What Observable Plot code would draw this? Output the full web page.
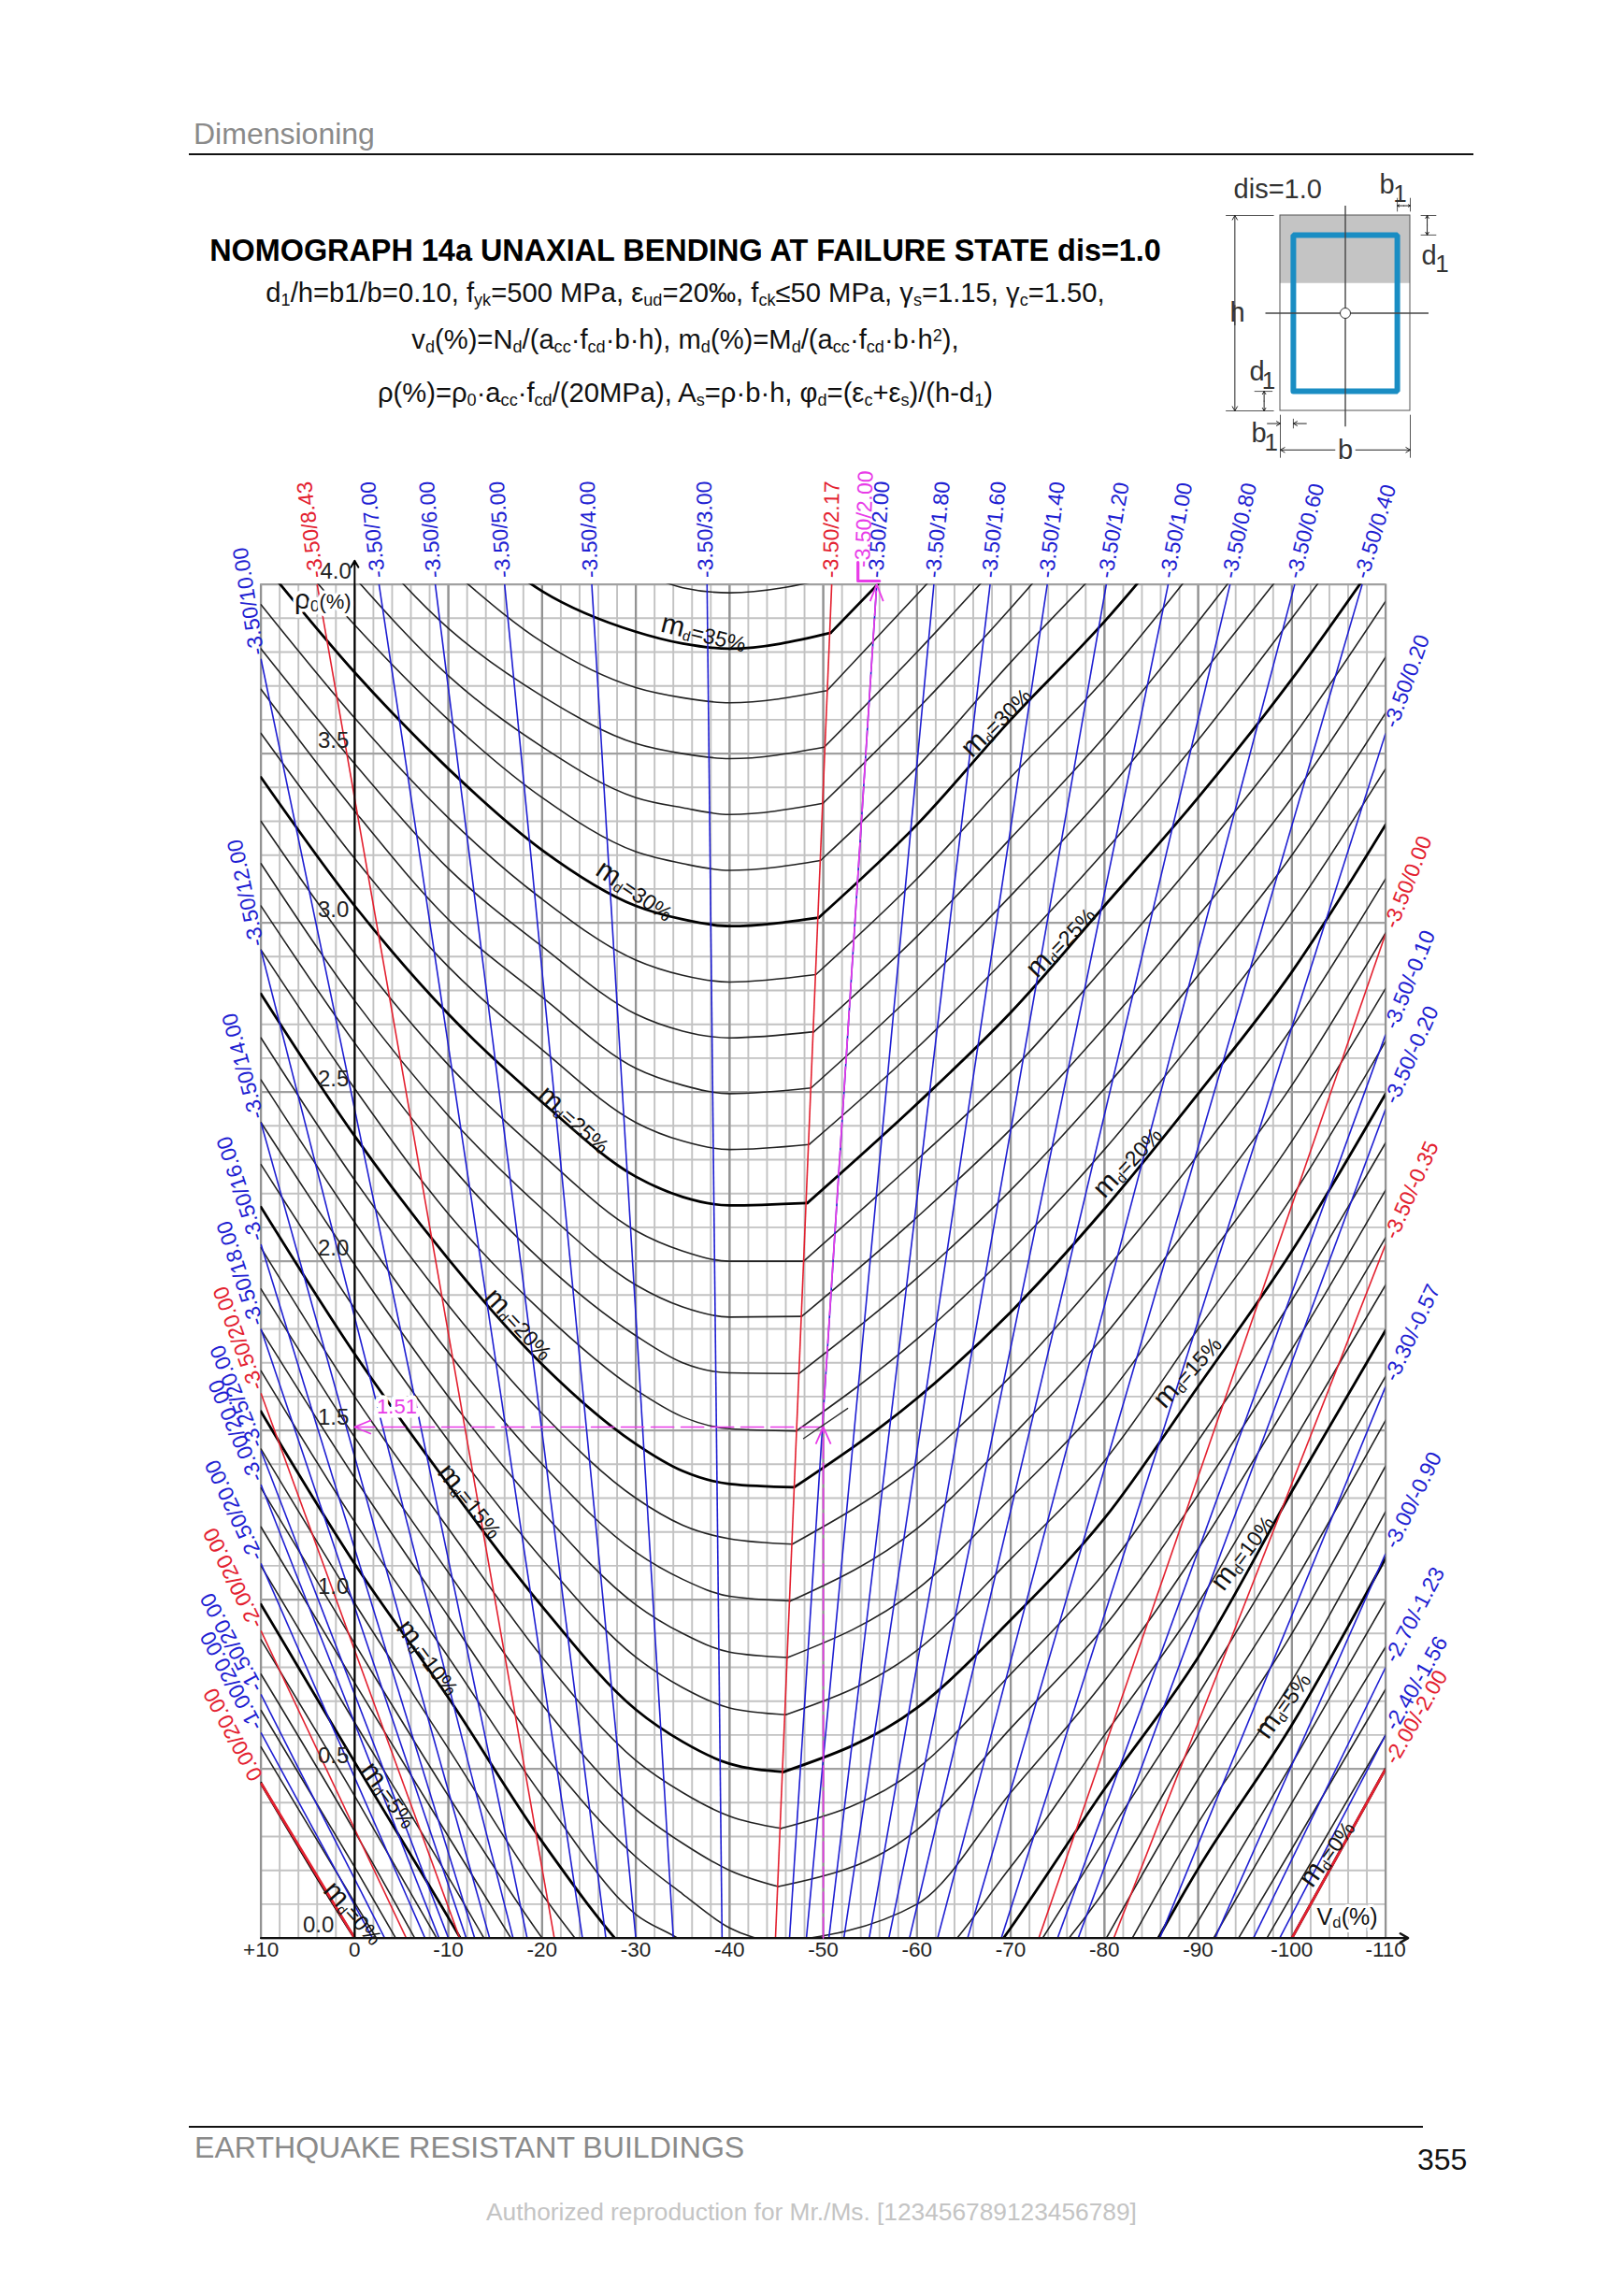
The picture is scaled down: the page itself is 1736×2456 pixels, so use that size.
<!DOCTYPE html>
<html>
<head>
<meta charset="utf-8">
<script src="https://cdn.jsdelivr.net/npm/d3@7"></script>
<script src="https://cdn.jsdelivr.net/npm/@observablehq/plot@0.6"></script>
<style>
html,body{margin:0;padding:0;background:#fff}
#page{position:relative;width:1736px;height:2456px;overflow:hidden;font-family:"Liberation Sans",Arial,sans-serif;color:#111}
.t{position:absolute;white-space:nowrap;line-height:1}
.c{transform:translate(-50%,-50%)}
.hr{position:absolute;background:#111}
sub{font-size:.62em;line-height:0;vertical-align:-.22em}
sup{font-size:.62em;line-height:0;vertical-align:.45em}
#chart{position:absolute;left:0;top:480px}
#inset{position:absolute;left:1280px;top:160px}
</style>
</head>
<body>
<div id="page">
<div class="t" style="left:207px;top:127px;font-size:32px;color:#8a8a8a">Dimensioning</div>
<div class="hr" style="left:202px;top:164px;width:1374px;height:2px"></div>
<div class="t c" style="left:733px;top:268px;font-size:32.4px;font-weight:bold;color:#000">NOMOGRAPH 14a UNAXIAL BENDING AT FAILURE STATE dis=1.0</div>
<div class="t c" style="left:733px;top:314px;font-size:29.2px">d<sub>1</sub>/h=b1/b=0.10, f<sub>yk</sub>=500 MPa, ε<sub>ud</sub>=20‰, f<sub>ck</sub>≤50 MPa, γ<sub>s</sub>=1.15, γ<sub>c</sub>=1.50,</div>
<div class="t c" style="left:733px;top:364px;font-size:29.2px">v<sub>d</sub>(%)=N<sub>d</sub>/(a<sub>cc</sub>·f<sub>cd</sub>·b·h), m<sub>d</sub>(%)=M<sub>d</sub>/(a<sub>cc</sub>·f<sub>cd</sub>·b·h<sup>2</sup>),</div>
<div class="t c" style="left:733px;top:421px;font-size:29.2px">ρ(%)=ρ<sub>0</sub>·a<sub>cc</sub>·f<sub>cd</sub>/(20MPa), A<sub>s</sub>=ρ·b·h, φ<sub>d</sub>=(ε<sub>c</sub>+ε<sub>s</sub>)/(h-d<sub>1</sub>)</div>
<div id="chart"></div>
<div id="inset"></div>
<div class="hr" style="left:202px;top:2274px;width:1320px;height:2px"></div>
<div class="t" style="left:208px;top:2281px;font-size:32.1px;color:#8a8a8a">EARTHQUAKE RESISTANT BUILDINGS</div>
<div class="t" style="left:1516px;top:2294px;font-size:32px;color:#111">355</div>
<div class="t c" style="left:868px;top:2366px;font-size:26.3px;color:#c4c4c4">Authorized reproduction for Mr./Ms. [123456789123456789]</div>
</div>
<script>
const mdValues = d3.range(0, 37);
const rhoAtPlus10 = [.458,.565,.673,.78,.882,.986,1.10,1.215,1.33,1.445,1.556,1.676,1.797,1.918,2.04,2.16,2.286,2.41,2.536,2.66,2.79,2.92,3.05,3.175,3.30,3.43,3.56,3.69,3.81,3.94,4.07,4.2,null,null,null,null,null];
const rhoAt0 = [0,.105,.21,.315,.42,.52,.637,.754,.87,.99,1.106,1.23,1.36,1.48,1.60,1.726,1.86,1.99,2.115,2.24,2.37,2.51,2.645,2.77,2.91,3.05,3.19,3.33,3.47,3.605,3.74,3.88,4.02,4.16,4.3,4.44,null];
const rhoAtM10 = [-.4,-.35,-.27,-.18,-.06,.06,.18,.30,.42,.56,.71,.83,.95,1.08,1.21,1.34,1.47,1.6,1.73,1.87,2.006,2.14,2.29,2.43,2.58,2.73,2.87,3.01,3.16,3.31,3.455,3.6,3.73,3.87,4.05,4.2,null];
const rhoAtM20 = [null,null,null,null,null,-.42,-.3,-.15,0,.13,.285,.42,.55,.69,.83,.98,1.12,1.26,1.40,1.55,1.695,1.85,2.0,2.155,2.315,2.47,2.625,2.78,2.93,3.07,3.215,3.37,3.52,3.67,3.83,3.98,4.15];
const rhoAtM30 = [null,null,null,null,null,null,null,null,-.35,-.22,-.07,.07,.24,.38,.525,.675,.83,.985,1.14,1.30,1.46,1.62,1.78,1.93,2.09,2.25,2.41,2.57,2.73,2.89,3.05,3.21,3.37,3.53,3.695,3.86,4.04];
const rhoAtM35 = [null,null,null,null,null,null,null,null,null,null,-.2,-.01,.13,.28,.43,.58,.74,.9,1.06,1.22,1.38,1.54,1.70,1.865,2.03,2.19,2.355,2.52,2.68,2.845,3.01,3.175,3.34,3.50,3.665,3.825,3.99];
const rhoAtM40 = [null,null,null,null,null,null,null,null,null,null,null,-.13,.03,.2,.36,.515,.68,.845,1.01,1.18,1.342,1.505,1.67,1.835,2.0,2.165,2.33,2.495,2.66,2.825,2.99,3.155,3.32,3.485,3.65,3.81,3.975];
const kinkVd = [null,null,null,null,null,null,null,null,null,null,null,-44.7,-45,-45.2,-45.5,-45.75,-46,-46.2,-46.5,-46.7,-46.9,-47.1,-47.4,-47.7,-47.9,-48.3,-48.5,-48.7,-49,-49.2,-49.5,-49.7,-49.97,-50.1,-50.4,-50.8,-51];
const kinkRho = [null,null,null,null,null,null,null,null,null,null,null,-.18,-.015,.152,.324,.491,.66,.829,.996,1.164,1.332,1.498,1.668,1.837,2.0,2.172,2.345,2.512,2.678,2.847,3.015,3.184,3.353,3.519,3.686,3.857,4.02];
const rhoAtM60 = [null,null,null,null,null,null,null,null,null,null,-.35,-.1,.10,.32,.50,.68,.85,1.03,1.21,1.40,1.595,1.77,1.95,2.13,2.30,2.465,2.63,2.80,2.96,3.13,3.29,3.46,3.63,3.80,3.97,4.12,4.3];
const rhoAtM70 = [null,null,null,null,null,null,null,null,-.2,-.15,.03,.21,.43,.62,.78,.94,1.12,1.30,1.48,1.66,1.85,2.03,2.21,2.39,2.56,2.735,2.91,3.08,3.25,3.43,3.6,3.77,3.93,4.1,4.27,null,null];
const rhoAtM80 = [null,null,null,null,-.4,-.29,-.15,-.01,.14,.29,.44,.6,.76,.92,1.08,1.24,1.41,1.59,1.78,1.97,2.155,2.33,2.51,2.69,2.87,3.05,3.21,3.38,3.55,3.72,3.89,4.06,4.25,null,null,null,null];
const rhoAtM90 = [-.5,-.35,-.2,-.08,.05,.205,.34,.47,.6,.72,.83,.99,1.15,1.31,1.47,1.63,1.80,1.97,2.14,2.315,2.495,2.67,2.845,3.02,3.195,3.37,3.54,3.72,3.89,4.06,4.22,null,null,null,null,null,null];
const rhoAtM100 = [0,.127,.264,.40,.515,.63,.76,.90,1.04,1.18,1.32,1.46,1.60,1.74,1.885,2.03,2.19,2.355,2.52,2.69,2.855,3.03,3.2,3.37,3.545,3.72,3.9,4.07,4.25,null,null,null,null,null,null,null,null];
const rhoAtM110 = [.5,.60,.735,.86,.997,1.123,1.26,1.395,1.53,1.66,1.796,1.93,2.07,2.21,2.35,2.495,2.65,2.806,2.97,3.13,3.29,3.455,3.62,3.785,3.95,4.11,4.27,null,null,null,null,null,null,null,null,null,null];
const leftStations = [10,0,-10,-20,-30,-35,-40];
const leftColumns = [rhoAtPlus10,rhoAt0,rhoAtM10,rhoAtM20,rhoAtM30,rhoAtM35,rhoAtM40];
const rightStations = [-60,-70,-80,-90,-100,-110];
const rightColumns = [rhoAtM60,rhoAtM70,rhoAtM80,rhoAtM90,rhoAtM100,rhoAtM110];

// ---- strain rays: label, where they leave the frame, and where they meet rho=0 ----
const strainLabels = ["-3.50/10.00","-3.50/12.00","-3.50/14.00","-3.50/16.00","-3.50/18.00","-3.50/20.00","-3.25/20.00","-3.00/20.00","-2.50/20.00","-2.00/20.00","-1.50/20.00","-1.00/20.00","0.00/20.00","-3.50/8.43","-3.50/7.00","-3.50/6.00","-3.50/5.00","-3.50/4.00","-3.50/3.00","-3.50/2.17","-3.50/2.00","-3.50/1.80","-3.50/1.60","-3.50/1.40","-3.50/1.20","-3.50/1.00","-3.50/0.80","-3.50/0.60","-3.50/0.40","-3.50/0.20","-3.50/0.00","-3.50/-0.10","-3.50/-0.20","-3.50/-0.35","-3.30/-0.57","-3.00/-0.90","-2.70/-1.23","-2.40/-1.56","-2.00/-2.00"];
const strainEndVd = [10,10,10,10,10,10,10,10,10,10,10,10,10,4,-2.6,-8.6,-16,-25.3,-37.6,-50.9,-55.7,-61.8,-67.8,-73.9,-80.2,-86.8,-93.4,-100.3,-107.5,-110,-110,-110,-110,-110,-110,-110,-110,-110,-110];
const strainEndRho = [3.78,2.92,2.41,2.05,1.80,1.61,1.44,1.34,1.107,.908,.72,.607,.458,4,4,4,4,4,4,4,4,4,4,4,4,4,4,4,4,3.56,2.968,2.67,2.45,2.05,1.63,1.136,.80,.60,.50];
const strainFootVd = [-18.4,-16.9,-14.4,-12.8,-11.9,-11.2,-10,-9,-7.5,-5.5,-3.2,-1.9,0,-21.3,-24.3,-26.8,-30,-34,-39.2,-44.9,-46.4,-48.2,-50.6,-52.2,-54.9,-57,-59.2,-62.2,-65.4,-69,-73,-75,-77.2,-81,-85.9,-91.8,-95.9,-98.7,-100];
const strainLabelAngle = [-99,-102,-105,-108,-108,-110,-112,-113,-115,-116,-118,-118,-118,-97,-96,-94.4,-94,-92,-91,-89,-86,-84,-84,-83,-80,-79,-77.6,-75.7,-73,-70,-68.5,-68,-66,-66,-65,-64,-62,-60,-60];
const redStrains = ["-3.50/20.00","-2.00/20.00","0.00/20.00","-3.50/8.43","-3.50/2.17","-3.50/0.00","-3.50/-0.35","-2.00/-2.00"];
const heavyStrains = ["0.00/20.00","-2.00/-2.00"];

// ---- axes, grid and annotation ----
const gridVdMinor = d3.range(-110, 11, 2);
const gridVdMajor = d3.range(-110, 11, 10);
const gridRhoMinor = d3.range(0, 41).map(d => d / 10);
const gridRhoMajor = [0,.5,1,1.5,2,2.5,3,3.5,4];
const vdTickValues = [10,0,-10,-20,-30,-40,-50,-60,-70,-80,-90,-100,-110];
const vdTickLabels = ["+10","0","-10","-20","-30","-40","-50","-60","-70","-80","-90","-100","-110"];
const rhoTickLabels = ["0.0","0.5","1.0","1.5","2.0","2.5","3.0","3.5","4.0"];
const curveLabels = ["md=35%","md=30%","md=25%","md=20%","md=15%","md=10%","md=5%","md=0%","md=30%","md=25%","md=20%","md=15%","md=10%","md=5%","md=0%"];
const curveLabelVd = [-37.2,-29.8,-23.3,-17.4,-12.2,-7.7,-3.5,.25,-68.6,-75.5,-82.6,-89,-94.9,-99.2,-103.9];
const curveLabelRho = [3.85,3.09,2.414,1.81,1.288,.825,.419,.07,3.59,2.94,2.29,1.67,1.136,.685,.247];
const curveLabelAngle = [14,34,42,47,51,53,53.5,48,-45,-46,-47,-48,-53,-54,-54];
const exampleVd = -50, exampleRho = 1.51;

const rows = [];
for (const md of mdValues) {
  const kink = kinkVd[md] == null ? [] : [{v: kinkVd[md], rho: kinkRho[md]}];
  const left = leftStations.map((v, i) => ({v, rho: leftColumns[i][md]})).filter(d => d.rho != null);
  const right = rightStations.map((v, i) => ({v, rho: rightColumns[i][md]})).filter(d => d.rho != null);
  for (const d of [...left, ...kink]) rows.push({...d, md, key: md + "L"});
  for (const d of [...kink, ...right]) rows.push({...d, md, key: md + "R"});
}
const strains = strainLabels.map((label, i) => ({
  label, x1: strainEndVd[i], y1: strainEndRho[i], x2: strainFootVd[i], y2: 0, angle: strainLabelAngle[i],
  red: redStrains.includes(label), heavy: heavyStrains.includes(label),
  side: strainEndVd[i] === 10 ? "left" : strainEndVd[i] === -110 ? "right" : "top"
}));
const thin = rows.filter(d => d.md % 5 !== 0);
const thick = rows.filter(d => d.md % 5 === 0);
const BLUE = "#1e1ed2", RED = "#e3202f", MAG = "#e83be8";
const curveOpts = {x: "v", y: "rho", z: "key", curve: "monotone-x", clip: true};
const strainText = side => Plot.text(strains.filter(d => d.side === side), {
  x: "x1", y: "y1", text: "label", rotate: "angle", textAnchor: "start", lineAnchor: "middle", fontSize: 23,
  dx: side === "left" ? -4 : side === "right" ? 5 : -1, dy: side === "left" ? -4 : -7, fill: d => d.red ? RED : BLUE});
const arrowOpts = {x1: "x1", y1: "y1", x2: "x2", y2: "y2"};

const marks = [
  Plot.ruleX(gridVdMinor, {y1: 0, y2: 4, stroke: "#c2c2c2", strokeWidth: 1.9}),
  Plot.ruleY(gridRhoMinor, {x1: 10, x2: -110, stroke: "#c2c2c2", strokeWidth: 1.9}),
  Plot.ruleX(gridVdMajor, {y1: 0, y2: 4, stroke: "#939393", strokeWidth: 2.3}),
  Plot.ruleY(gridRhoMajor, {x1: 10, x2: -110, stroke: "#a0a0a0", strokeWidth: 2.4}),
  Plot.line(thin, {...curveOpts, stroke: "#222", strokeWidth: 1.6}),
  Plot.line(thick, {...curveOpts, stroke: "#000", strokeWidth: 2.8}),
  Plot.link(strains.filter(d => !d.red), {...arrowOpts, stroke: BLUE, strokeWidth: 1.6, clip: true}),
  Plot.link(strains.filter(d => d.red), {...arrowOpts, stroke: RED, strokeWidth: d => d.heavy ? 2.8 : 1.6, clip: true}),
  // axes
  Plot.arrow([{x1: 0, y1: 0, x2: 0, y2: 4.07}], {...arrowOpts, stroke: "#000", strokeWidth: 2, headLength: 6, bend: 0}),
  Plot.arrow([{x1: 10, y1: 0, x2: -112.4, y2: 0}], {...arrowOpts, stroke: "#111", strokeWidth: 2.4, headLength: 6, bend: 0}),
  Plot.text(vdTickValues, {x: d => d, y: 0, text: (d, i) => vdTickLabels[i], dy: 4, lineAnchor: "top", fontSize: 22.5, fill: "#222"}),
  Plot.text(gridRhoMajor, {x: d => d === 0 ? 2.2 : d === 4 ? .35 : .6, y: d => d, text: (d, i) => rhoTickLabels[i], dy: -14, textAnchor: "end", fontSize: 24, fill: "#222"}),
  // strain labels
  strainText("left"), strainText("top"), strainText("right"),
  // curve labels
  Plot.text(curveLabels, {x: (d, i) => curveLabelVd[i], y: (d, i) => curveLabelRho[i], rotate: (d, i) => curveLabelAngle[i], text: d => d, fontSize: 23, fill: "#111", lineAnchor: "middle"}),
  // worked example
  Plot.line([{v: exampleVd, rho: 0}, {v: exampleVd, rho: exampleRho}], {x: "v", y: "rho", stroke: MAG, strokeWidth: 1.6, strokeDasharray: "22 5"}),
  Plot.line([{v: exampleVd, rho: exampleRho}, {v: 0, rho: exampleRho}], {x: "v", y: "rho", stroke: MAG, strokeWidth: 1.7, strokeDasharray: "24 8"}),
  Plot.line([{v: -49.9, rho: exampleRho}, {v: -55.7, rho: 4}], {x: "v", y: "rho", stroke: MAG, strokeWidth: 1.7, strokeDasharray: "26 4"}),
  Plot.link([
    {x1: 0, y1: exampleRho, x2: -1.75, y2: exampleRho + .02}, {x1: 0, y1: exampleRho, x2: -1.75, y2: exampleRho - .02},
    {x1: exampleVd, y1: exampleRho, x2: exampleVd + .8, y2: exampleRho - .05}, {x1: exampleVd, y1: exampleRho, x2: exampleVd - .8, y2: exampleRho - .05},
    {x1: -55.7, y1: 4, x2: -55, y2: 3.95}, {x1: -55.7, y1: 4, x2: -56.4, y2: 3.95}
  ], {...arrowOpts, stroke: MAG, strokeWidth: 1.8}),
  Plot.line([{v: -47.9, rho: 1.476}, {v: -52.6, rho: 1.565}], {x: "v", y: "rho", stroke: "#333", strokeWidth: 1.4}),
  Plot.line([{v: -53.7, rho: 4.065}, {v: -53.7, rho: 4.01}, {v: -56, rho: 4.01}], {x: "v", y: "rho", stroke: MAG, strokeWidth: 3.2}),
  Plot.text(["-3.50/2.00"], {x: -54.2, y: 4.05, text: d => d, rotate: -88, textAnchor: "start", lineAnchor: "middle", fontSize: 23, fill: MAG}),
  Plot.text(["1.51"], {x: -4.5, y: 1.57, text: d => d, fontSize: 22, fill: MAG, stroke: "#fff", strokeWidth: 9, lineAnchor: "middle"}),
  Plot.text(["ρ0(%)"], {x: 3.4, y: 3.95, text: d => d, fontSize: 25, fill: "#111", stroke: "#fff", strokeWidth: 7, lineAnchor: "middle"}),
  Plot.text(["Vd(%)"], {x: -105.9, y: .06, text: d => d, fontSize: 25, fill: "#111", stroke: "#fff", strokeWidth: 6, lineAnchor: "middle"})
];

const plot = Plot.plot({
  width: 1736, height: 1670,
  marginLeft: 278.6, marginRight: 254.4, marginTop: 144.6, marginBottom: 77.4,
  style: {fontFamily: "'Liberation Sans', Arial, sans-serif", background: "transparent", overflow: "visible"},
  x: {domain: [10, -110], axis: null},
  y: {domain: [0, 4], axis: null},
  marks
});
document.getElementById("chart").appendChild(plot);

// subscripts in the curve and axis names
d3.select(plot).selectAll("text").each(function () {
  const el = d3.select(this), s = el.text();
  const parts = s.startsWith("md=") ? [["m", 30], ["d", 15, 3], [s.slice(2), 23, -3]]
    : s === "ρ0(%)" ? [["ρ", 30], ["0", 17, 3], ["(%)", 22, -3]]
    : s === "Vd(%)" ? [["V", 25], ["d", 17, 3], ["(%)", 25, -3]] : null;
  if (parts) {
    el.text(null);
    for (const [t, fs, dy] of parts) el.append("tspan").attr("font-size", fs).attr("dy", dy || null).text(t);
  }
});

// ---- section sketch ----
const sectionD1 = .1, sectionB1 = .1;
const steelOutline = [{x: sectionB1, y: sectionD1}, {x: 1 - sectionB1, y: sectionD1}, {x: 1 - sectionB1, y: 1 - sectionD1}, {x: sectionB1, y: 1 - sectionD1}, {x: sectionB1, y: sectionD1}];
const dimArrows = [
  {x1: -.35, y1: .44, x2: -.35, y2: 1}, {x1: -.35, y1: .56 - .02, x2: -.35, y2: 0},
  {x1: .42, y1: -.2, x2: 0, y2: -.2}, {x1: .58, y1: -.2, x2: 1, y2: -.2},
  {x1: .95, y1: 1.05, x2: .9, y2: 1.05}, {x1: .95, y1: 1.05, x2: 1, y2: 1.05},
  {x1: 1.13, y1: .95, x2: 1.13, y2: 1}, {x1: 1.13, y1: .95, x2: 1.13, y2: .9},
  {x1: -.125, y1: .05, x2: -.125, y2: .1}, {x1: -.125, y1: .05, x2: -.125, y2: 0},
  {x1: -.1, y1: -.065, x2: 0, y2: -.065}, {x1: .2, y1: -.065, x2: .1, y2: -.065}
];
const thinLines = [
  [-.42, 1, -.05, 1], [-.42, 0, -.05, 0], [1.08, 1, 1.2, 1], [1.08, .9, 1.2, .9], [-.2, .1, -.06, .1],
  [.9, 1.02, .9, 1.09], [1, 1.02, 1, 1.09], [0, -.02, 0, -.24], [1, -.02, 1, -.24], [.1, -.04, .1, -.09]
].map(([x1, y1, x2, y2]) => ({x1, y1, x2, y2}));
const sectionText = [
  {t: "dis=1.0", x: -.02, y: 1.134, s: 29}, {t: "h", x: -.33, y: .5, s: 29}, {t: "b", x: .5, y: -.2, s: 29},
  {t: "b", x: .82, y: 1.158, s: 29}, {t: "1", x: .92, y: 1.11, s: 26},
  {t: "d", x: 1.144, y: .794, s: 29}, {t: "1", x: 1.245, y: .75, s: 26},
  {t: "d", x: -.18, y: .2, s: 29}, {t: "1", x: -.09, y: .153, s: 26},
  {t: "b", x: -.165, y: -.115, s: 29}, {t: "1", x: -.07, y: -.163, s: 26}
];
const inset = Plot.plot({
  width: 300, height: 350,
  style: {fontFamily: "'Liberation Sans', Arial, sans-serif", background: "transparent", overflow: "visible"},
  x: {domain: [0, 1], range: [89, 228], axis: null},
  y: {domain: [0, 1], range: [279, 70], axis: null},
  marks: [
    Plot.rectY([{x1: 0, x2: 1, y1: .652, y2: 1}], {x1: "x1", x2: "x2", y1: "y1", y2: "y2", fill: "#c4c4c4"}),
    Plot.rectY([{x1: 0, x2: 1, y1: 0, y2: 1}], {x1: "x1", x2: "x2", y1: "y1", y2: "y2", fill: "none", stroke: "#555", strokeWidth: 1}),
    Plot.line(steelOutline, {x: "x", y: "y", stroke: "#1a8dc3", strokeWidth: 6, strokeLinejoin: "miter"}),
    Plot.link([{x1: .5, y1: -.08, x2: .5, y2: 1.05}, {x1: -.115, y1: .5, x2: 1.14, y2: .5}], {x1: "x1", y1: "y1", x2: "x2", y2: "y2", stroke: "#444", strokeWidth: 1.4}),
    Plot.dot([{x: .5, y: .5}], {x: "x", y: "y", r: 5.5, fill: "#fff", stroke: "#333", strokeWidth: 1}),
    Plot.link(thinLines, {x1: "x1", y1: "y1", x2: "x2", y2: "y2", stroke: "#555", strokeWidth: 1}),
    Plot.arrow(dimArrows, {x1: "x1", y1: "y1", x2: "x2", y2: "y2", stroke: "#222", strokeWidth: 1, headLength: 8, bend: 0}),
    Plot.text(sectionText, {x: "x", y: "y", text: "t", fontSize: "s", fill: "#333", lineAnchor: "middle"})
  ]
});
document.getElementById("inset").appendChild(inset);
</script>
</body>
</html>
